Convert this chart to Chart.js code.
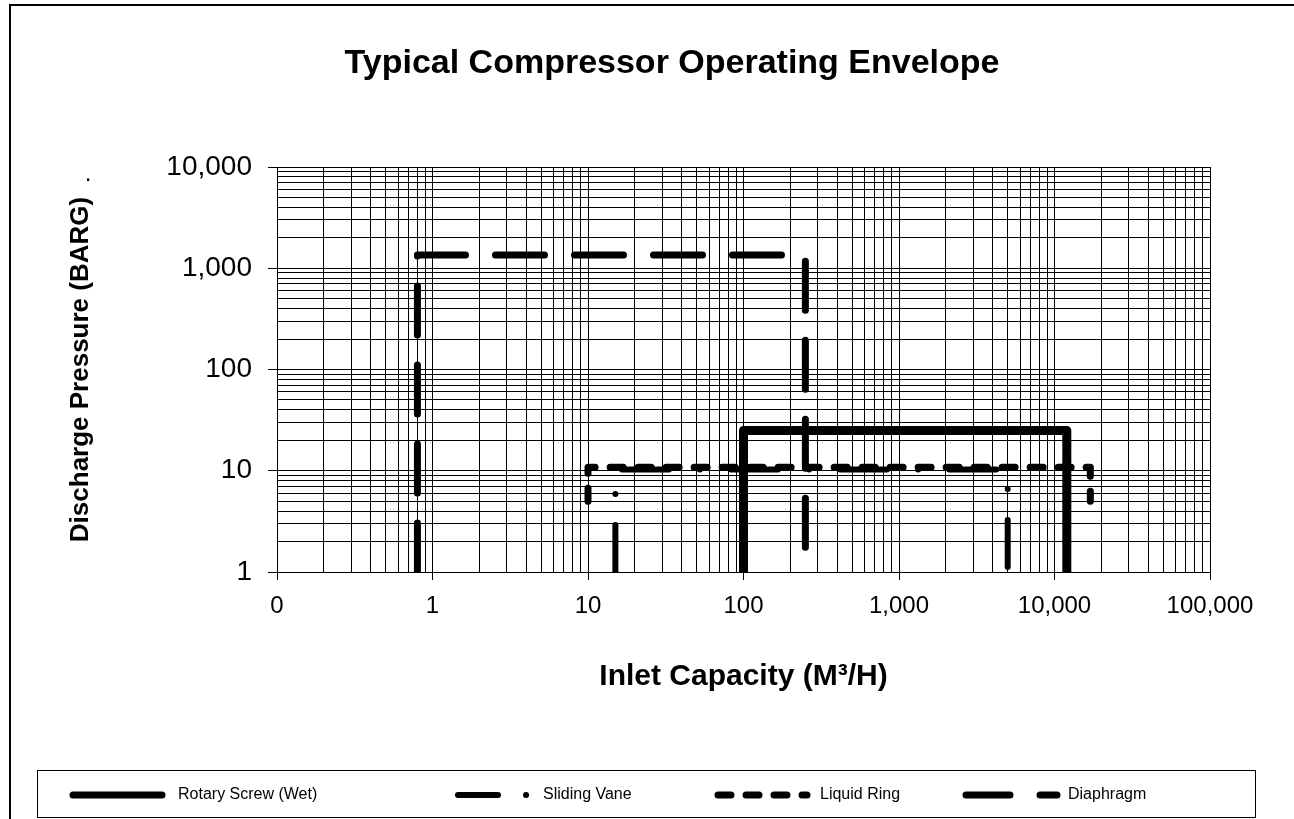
<!DOCTYPE html>
<html>
<head>
<meta charset="utf-8">
<script src="https://cdn.jsdelivr.net/npm/chart.js@4/dist/chart.umd.min.js"></script>
<style>
  html, body { margin: 0; padding: 0; background: #fff; }
  #wrap { width: 1294px; height: 819px; }
</style>
</head>
<body>
<div id="wrap"><canvas id="chart_compressor_envelope"></canvas></div>
<script>
// envelope corners (x = m3/h, y = barg)
const seriesNames = ['Rotary Screw (Wet)', 'Sliding Vane', 'Liquid Ring', 'Diaphragm'];

const rotaryX = [100, 100, 12000, 12000];
const rotaryY = [1, 25, 25, 1];

const vaneX = [15, 15, 5000, 5000];
const vaneY = [1, 10.3, 10.3, 1];

const ringX = [10, 10, 17000, 17000];
const ringY = [5, 10.8, 10.8, 5];

const diaphragmX = [0.8, 0.8, 250, 250];
const diaphragmY = [1, 1350, 1350, 1];

const xTickValues = [0.1, 1, 10, 100, 1000, 10000, 100000];
const xTickLabels = ['0', '1', '10', '100', '1,000', '10,000', '100,000'];
const yTickValues = [1, 10, 100, 1000, 10000];
const yTickLabels = ['1', '10', '100', '1,000', '10,000'];

const FONT = '"Liberation Sans", Arial, Helvetica, sans-serif';
Chart.defaults.font.family = FONT;
Chart.defaults.color = '#000';

const points = (xs, ys) => xs.map((x, i) => ({ x, y: ys[i] }));

// 1..9 per decade, so every log grid line gets drawn
const logTicks = (majors) => {
  let out = [];
  for (let i = 0; i < majors.length - 1; i++) {
    for (let m = 1; m <= 9; m++) out.push({ value: m * majors[i] });
  }
  out.push({ value: majors[majors.length - 1] });
  return out;
};

const labelFor = (values, labels) => (value) => {
  let i = values.findIndex(v => Math.abs(v - value) < v * 1e-6);
  return i >= 0 ? labels[i] : '';
};

const isMajorOf = (values) => (ctx) =>
  ctx.tick && values.some(v => Math.abs(v - ctx.tick.value) < v * 1e-6) ? '#000' : 'rgba(0,0,0,0)';

// legend: sample start, sample end, text start, row centre
const legendFrom = [70, 455, 715, 963];
const legendTo = [165, 530, 810, 1060];
const legendText = [178, 543, 820, 1068];
const legendDash = [[], [40, 28, 0.1, 28], [13, 15], [44, 30]];
const legendRowY = 795;

const frame = {
  id: 'frame',
  afterDraw(chart) {
    let ctx = chart.ctx;
    ctx.save();
    ctx.strokeStyle = '#000';
    ctx.lineWidth = 2;
    ctx.beginPath();
    ctx.moveTo(10, 819);
    ctx.lineTo(10, 5);
    ctx.lineTo(1294, 5);
    ctx.stroke();

    ctx.lineWidth = 1;
    ctx.strokeRect(37.5, 770.5, 1218, 47);

    ctx.fillStyle = '#000';
    ctx.textAlign = 'center';
    ctx.textBaseline = 'middle';
    ctx.font = 'bold 34px ' + FONT;
    ctx.fillText('Typical Compressor Operating Envelope', 672, 64);
    ctx.font = '24px ' + FONT;
    ctx.fillText('.', 88, 174);

    // legend, one line sample per dataset
    ctx.textAlign = 'left';
    ctx.font = '16px ' + FONT;
    chart.data.datasets.forEach((ds, i) => {
      ctx.save();
      ctx.strokeStyle = ds.borderColor;
      ctx.lineWidth = Math.min(ds.borderWidth, 7);
      ctx.lineCap = 'round';
      ctx.setLineDash(legendDash[i]);
      ctx.beginPath();
      ctx.moveTo(legendFrom[i] + 3, legendRowY);
      ctx.lineTo(legendTo[i] - 3, legendRowY);
      ctx.stroke();
      ctx.restore();
      ctx.fillText(ds.label, legendText[i], legendRowY);
    });
    ctx.restore();
  }
};

const baseLine = {
  showLine: true,
  fill: false,
  tension: 0,
  pointRadius: 0,
  pointHoverRadius: 0,
  borderColor: '#000',
  backgroundColor: '#000',
  borderCapStyle: 'round',
  borderJoinStyle: 'round'
};

let data = {
  datasets: [
    { ...baseLine, label: seriesNames[0], data: points(rotaryX, rotaryY), borderWidth: 9 },
    { ...baseLine, label: seriesNames[1], data: points(vaneX, vaneY), borderWidth: 6, borderDash: [47, 31, 0.1, 31] },
    { ...baseLine, label: seriesNames[2], data: points(ringX, ringY), borderWidth: 7, borderDash: [13, 15] },
    { ...baseLine, label: seriesNames[3], data: points(diaphragmX, diaphragmY), borderWidth: 7, borderDash: [49, 30] }
  ]
};

let options = {
  responsive: true,
  maintainAspectRatio: false,
  animation: false,
  layout: { padding: { top: 167, right: 84, bottom: 0, left: 0 } },
  plugins: {
    title: { display: false },
    tooltip: { enabled: false },
    legend: { display: false }
  },
  scales: {
    x: {
      type: 'logarithmic',
      min: 0.1,
      max: 100000,
      afterBuildTicks: s => { s.ticks = logTicks(xTickValues); },
      afterFit: s => { s.height = 819 - 572; },
      ticks: {
        autoSkip: false,
        maxRotation: 0,
        padding: 12,
        font: { size: 24 },
        color: '#000',
        callback: labelFor(xTickValues, xTickLabels)
      },
      grid: { color: '#000', lineWidth: 1, tickLength: 8, tickColor: isMajorOf(xTickValues) },
      border: { color: '#000', width: 1 },
      title: {
        display: true,
        text: 'Inlet Capacity (M³/H)',
        color: '#000',
        font: { size: 30, weight: 'bold' },
        padding: { top: 0, bottom: 124 }
      }
    },
    y: {
      type: 'logarithmic',
      min: 1,
      max: 10000,
      afterBuildTicks: s => { s.ticks = logTicks(yTickValues); },
      afterFit: s => { s.width = 277; },
      ticks: {
        autoSkip: false,
        padding: 16,
        font: { size: 28 },
        color: '#000',
        callback: labelFor(yTickValues, yTickLabels)
      },
      grid: { color: '#000', lineWidth: 1, tickLength: 9, tickColor: isMajorOf(yTickValues) },
      border: { color: '#000', width: 1 },
      title: {
        display: true,
        text: 'Discharge Pressure (BARG)',
        color: '#000',
        font: { size: 26, weight: 'bold' },
        padding: { top: 65, bottom: 0 }
      }
    }
  }
};

new Chart('chart_compressor_envelope', { type: 'scatter', data, options, plugins: [frame] });
</script>
</body>
</html>
